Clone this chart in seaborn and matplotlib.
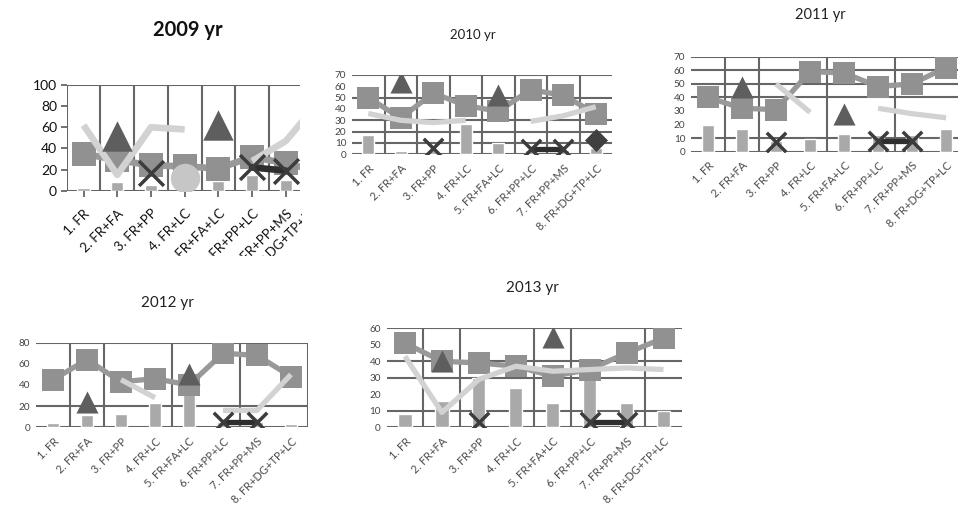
import numpy as np
import pandas as pd
import matplotlib
matplotlib.use("Agg")
import matplotlib.pyplot as plt
from matplotlib.transforms import Bbox
import seaborn as sns

nan = np.nan

categories = ["1. FR", "2. FR+FA", "3. FR+PP", "4. FR+LC", "5. FR+FA+LC",
              "6. FR+PP+LC", "7. FR+PP+MS", "8. FR+DG+TP+LC"]

# 2009
bars_2009 = [3, 8, 5, 10, 9, 15, 10, 8]
squares_2009 = [35, 29, 24, 23, 21, 32, 26, 18]
light_2009 = [62, 15, 60, 58, nan, 28, 47, 85]
tri_2009 = [nan, 52, nan, nan, 62, nan, nan, nan]
cross_2009 = [nan, nan, 17, nan, nan, 22, 19, nan]
circle_2009 = [nan, nan, nan, 12, nan, nan, nan, nan]

# 2010
bars_2010 = [17, 3, 4, 27, 10, 4, 4, 6]
squares_2010 = [50, 32, 54, 43, 38, 57, 52, 36]
light_2010 = [36, 30, 28, 30, nan, 29, 34, 42]
tri_2010 = [nan, 64, nan, nan, 52, nan, nan, nan]
cross_2010 = [nan, nan, 6, nan, nan, 5, 5, nan]
diamond_2010 = [nan, nan, nan, nan, nan, nan, nan, 13]

# 2011
bars_2011 = [20, 17, 8, 9, 13, 12, 12, 17]
squares_2011 = [40, 32, 31, 59, 58, 48, 50, 62]
light_2011 = [nan, nan, 50, 29, nan, 32, 28, 25]
tri_2011 = [nan, 48, nan, nan, 28, nan, nan, nan]
cross_2011 = [nan, nan, 7, nan, nan, 8, 8, nan]

# 2012
bars_2012 = [4, 12, 13, 23, 43, 5, 5, 3]
squares_2012 = [45, 64, 43, 46, 40, 70, 68, 48]
light_2012 = [nan, nan, 45, 28, nan, 16, 16, 50]
tri_2012 = [nan, 24, nan, nan, 50, nan, nan, nan]
cross_2012 = [nan, nan, nan, nan, nan, 5, 5, nan]

# 2013
bars_2013 = [8, 16, 30, 24, 15, 30, 15, 10]
squares_2013 = [51, 40, 39, 37, 31, 35, 45, 54]
light_2013 = [43, 9, 29, 37, 34, 35, 36, 35]
tri_2013 = [nan, 40, nan, nan, 55, nan, nan, nan]
cross_2013 = [nan, nan, 3, nan, nan, 3, 3, nan]

BAR_C = "#a9a9a9"
SQ_C = "#919191"
SQLINE_C = "#999999"
LIGHT_C = "#d2d2d2"
TRI_C = "#5e5e5e"
CROSS_C = "#3c3c3c"
CIRC_C = "#c6c6c6"
DIAM_C = "#404040"
GRID_C = "#666666"

W, H = 958, 509

sns.set_theme(style="white")
plt.rcParams["font.family"] = ["Lato", "DejaVu Sans"]

fig = plt.figure(figsize=(W / 100, H / 100), dpi=100)


def segments(values):
    rows, seg, prev = [], 0, False
    for i, v in enumerate(values):
        if v is None or np.isnan(v):
            prev = False
            continue
        if not prev:
            seg += 1
        rows.append((i, v, seg))
        prev = True
    return pd.DataFrame(rows, columns=["x", "y", "seg"])


def points(values):
    df = pd.DataFrame({"x": range(len(values)), "y": values})
    return df.dropna()


def add_axes(left, top, right, bottom):
    return fig.add_axes([left / W, 1 - bottom / H, (right - left) / W, (bottom - top) / H])


def draw_panel(ax, bars, squares, light, tri, cross, ymax, sq_size, lw,
               hlines, vlines, xmax, tri_scale=1.1, cross_scale=0.85,
               circle=None, diamond=None):
    for h in hlines:
        ax.axhline(h, color=GRID_C, lw=1.5, zorder=0.5)
    for v in vlines:
        ax.axvline(v, color=GRID_C, lw=1.5, zorder=0.5)

    df_bar = pd.DataFrame({"x": range(len(bars)), "y": bars})
    sns.barplot(data=df_bar, x="x", y="y", native_scale=True, width=0.36,
                color=BAR_C, saturation=1, ax=ax, zorder=2)

    sq = segments(squares)
    sns.lineplot(data=sq, x="x", y="y", units="seg", estimator=None,
                 color=SQLINE_C, lw=lw, ax=ax, legend=False, zorder=3)
    sns.scatterplot(data=points(squares), x="x", y="y", marker="s", s=sq_size,
                    color=SQ_C, linewidth=0, ax=ax, legend=False, zorder=4)

    lt = segments(light)
    sns.lineplot(data=lt, x="x", y="y", units="seg", estimator=None,
                 color=LIGHT_C, lw=lw, ax=ax, legend=False, zorder=5,
                 solid_capstyle="butt")

    sns.scatterplot(data=points(tri), x="x", y="y", marker="^",
                    s=sq_size * tri_scale, color=TRI_C, linewidth=0, ax=ax,
                    legend=False, zorder=6)
    if circle is not None:
        sns.scatterplot(data=points(circle), x="x", y="y", marker="o",
                        s=sq_size * 1.4, color=CIRC_C, linewidth=0, ax=ax,
                        legend=False, zorder=6)

    cr = segments(cross)
    sns.lineplot(data=cr, x="x", y="y", units="seg", estimator=None,
                 color="#2e2e2e", lw=lw, ax=ax, legend=False, zorder=7)
    sns.scatterplot(data=points(cross), x="x", y="y", marker="x",
                    s=sq_size * cross_scale, color=CROSS_C, linewidth=2.5,
                    ax=ax, legend=False, zorder=8)
    if diamond is not None:
        sns.scatterplot(data=points(diamond), x="x", y="y", marker="D",
                        s=sq_size * 0.6, color=DIAM_C, linewidth=0, ax=ax,
                        legend=False, zorder=8)

    ax.set_xticks(range(len(categories)))
    ax.set_xlim(-0.5, xmax)
    ax.set_ylim(0, ymax)
    ax.set_xlabel("")
    ax.set_ylabel("")
    for s in ax.spines.values():
        s.set_visible(False)
    ax.set_facecolor("none")


# ---- 2009 ----
ax09 = add_axes(66.7, 85, 300, 190.7)
draw_panel(ax09, bars_2009, squares_2009, light_2009, tri_2009, cross_2009,
           100, 320, 4.8, [0, 100], [-0.5, 0.5, 1.5, 2.5, 3.5, 4.5, 5.5],
           6.42, tri_scale=1.5, cross_scale=1.0, circle=circle_2009)
ax09.set_yticks([0, 20, 40, 60, 80, 100])
ax09.tick_params(axis="y", length=4, width=1.3, color=GRID_C, direction="out",
                 labelsize=10, labelcolor="#111111", pad=3, left=True)
ax09.tick_params(axis="x", length=4, width=1.3, color=GRID_C, direction="out",
                 bottom=True, pad=8)
ax09.set_xticklabels(categories, rotation=45, ha="right", rotation_mode="anchor",
                     fontsize=9.5, color="#111111")
ax09.set_xlim(-0.5, 6.42)
clip09 = Bbox.from_extents(0, H - 256, 302, H)
for lbl in ax09.get_xticklabels():
    lbl.set_clip_box(clip09)
    lbl.set_clip_on(True)
t8 = ax09.annotate(categories[7], xy=(7, 0), xycoords=("data", "axes fraction"),
                   xytext=(-2.5, -13), textcoords="offset points",
                   rotation=45, ha="right", va="center", rotation_mode="anchor",
                   fontsize=9.5, color="#111111", annotation_clip=False)
t8.set_clip_box(clip09)
t8.set_clip_on(True)
fig.text(188 / W, 1 - 30 / H, "2009 yr", ha="center", va="center",
         fontsize=14.5, fontweight="bold", color="#111111")


def small_labels(ax, yticks, xmax):
    ax.set_yticks(yticks)
    ax.tick_params(axis="y", labelsize=7.2, labelcolor="#444444", length=0, pad=4)
    ax.tick_params(axis="x", length=0, pad=6)
    ax.set_xticklabels(categories, rotation=45, ha="right",
                       rotation_mode="anchor", fontsize=8, color="#4a4a4a")
    ax.set_xlim(-0.5, xmax)
    ax.set_ylim(0, yticks[-1])


# ---- 2010 ----
ax10 = add_axes(352, 75, 612, 154.3)
draw_panel(ax10, bars_2010, squares_2010, light_2010, tri_2010, cross_2010,
           70, 230, 3.8, [0, 10, 20, 30, 50, 70],
           [0.5, 1.5, 2.5, 3.5, 4.5, 5.5, 6.5], 7.5, diamond=diamond_2010)
small_labels(ax10, [0, 10, 20, 30, 40, 50, 60, 70], 7.5)
fig.text(473 / W, 1 - 35 / H, "2010 yr", ha="center", va="center",
         fontsize=9.5, color="#222222")

# ---- 2011 ----
ax11 = add_axes(691, 56.7, 958, 151.7)
draw_panel(ax11, bars_2011, squares_2011, light_2011, tri_2011, cross_2011,
           70, 230, 3.8, [0, 10, 40, 50, 60, 70], [0.5, 1.5, 3.5, 5.5], 7.35)
small_labels(ax11, [0, 10, 20, 30, 40, 50, 60, 70], 7.35)
fig.text(820 / W, 1 - 15 / H, "2011 yr", ha="center", va="center",
         fontsize=10.5, color="#222222")

# ---- 2012 ----
ax12 = add_axes(36, 342.7, 308, 427.3)
draw_panel(ax12, bars_2012, squares_2012, light_2012, tri_2012, cross_2012,
           80, 230, 3.8, [0, 20, 80], [0.5, 1.5, 3.5, 5.5, 7.5], 7.5)
small_labels(ax12, [0, 20, 40, 60, 80], 7.5)
fig.text(167 / W, 1 - 303 / H, "2012 yr", ha="center", va="center",
         fontsize=11, color="#222222")

# ---- 2013 ----
ax13 = add_axes(386.5, 328.3, 682, 427.3)
draw_panel(ax13, bars_2013, squares_2013, light_2013, tri_2013, cross_2013,
           60, 230, 3.8, [0, 10, 30, 40, 60], [0.5, 1.5, 3.5, 4.5, 6.5], 7.5)
small_labels(ax13, [0, 10, 20, 30, 40, 50, 60], 7.5)
fig.text(532 / W, 1 - 288 / H, "2013 yr", ha="center", va="center",
         fontsize=11, color="#222222")

fig.savefig("out.png", dpi=100, facecolor="white")
